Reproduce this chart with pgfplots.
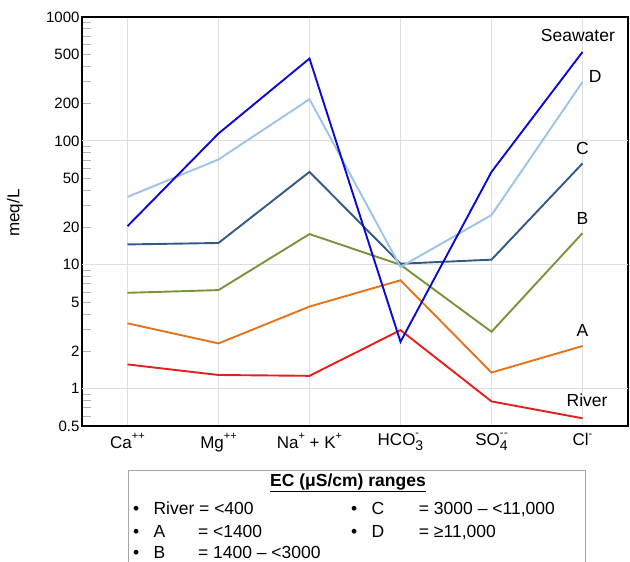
\documentclass[border=0pt]{standalone}
\usepackage{fontspec}
\setmainfont{Liberation Sans}
\usepackage{pgfplots}
\pgfplotsset{compat=1.18}
\definecolor{cRiver}{RGB}{230,30,30}
\definecolor{cA}{RGB}{230,115,25}
\definecolor{cB}{RGB}{119,147,60}
\definecolor{cC}{RGB}{50,90,135}
\definecolor{cD}{RGB}{157,195,235}
\definecolor{cSea}{RGB}{10,10,210}
\newcommand{\sups}[1]{\raisebox{0.5em}{\fontsize{11}{11}\selectfont #1}}
\newcommand{\subs}[1]{\raisebox{-0.32em}{\fontsize{14}{14}\selectfont #1}}
\begin{document}
\begin{tikzpicture}[x=1pt,y=1pt]
\useasboundingbox (0,0) rectangle (630,562);
\begin{axis}[
  at={(82pt,136pt)}, anchor=south west,
  scale only axis, width=546pt, height=409pt,
  ymode=log, ymin=0.5, ymax=1000, xmin=-0.5, xmax=5.5,
  clip=false,
  xtick={0,1,2,3,4,5},
  xticklabels={Ca\sups{++}, Mg\sups{++}, Na\sups{+} + K\sups{+}, HCO\rlap{\sups{-}}\subs{3}, SO\rlap{\sups{-\kern0.5pt-}}\subs{4}, Cl\sups{-}},
  ytick={0.5,1,2,5,10,20,50,100,200,500,1000},
  yticklabels={0.5,1,2,5,10,20,50,100,200,500,1000},
  minor ytick={0.6,0.7,0.8,0.9,3,4,6,7,8,9,30,40,60,70,80,90,300,400,600,700,800,900},
  ytick pos=left,
  major tick length=9pt, minor tick length=9pt,
  ytick style={gray!60, line width=1pt},
  xtick style={draw=none},
  xmajorgrids,
  grid style={gray!25, line width=1.2pt},
  extra y ticks={1,10,100}, extra y tick labels={},
  extra y tick style={grid=major, major tick length=0pt},
  axis line style={black, line width=1.3pt},
  tick label style={font=\fontsize{15}{17}\selectfont},
  yticklabel style={xshift=1pt},
  xticklabel style={font=\fontsize{17}{19}\selectfont, yshift=-4pt},
  every axis plot/.append style={line width=1.9pt, mark=none},
]
\addplot[cRiver] coordinates {(0,1.57) (1,1.29) (2,1.27) (3,2.97) (4,0.79) (5,0.577)};
\addplot[cA] coordinates {(0,3.37) (1,2.32) (2,4.6) (3,7.5) (4,1.35) (5,2.21)};
\addplot[cB] coordinates {(0,5.94) (1,6.25) (2,17.7) (3,10.0) (4,2.88) (5,18)};
\addplot[cC] coordinates {(0,14.6) (1,15.0) (2,56.2) (3,10.2) (4,11.0) (5,65.8)};
\addplot[cD] coordinates {(0,35.3) (1,70.8) (2,217) (3,9.6) (4,25.2) (5,299)};
\addplot[cSea] coordinates {(0,20.5) (1,114.7) (2,462) (3,2.39) (4,56.2) (5,522)};
\node[font=\fontsize{17.5}{19}\selectfont] at (axis cs:4.95,712) {Seawater};
\node[font=\fontsize{17.5}{19}\selectfont] at (axis cs:5.14,328) {D};
\node[font=\fontsize{17.5}{19}\selectfont] at (axis cs:5.0,87.3) {C};
\node[font=\fontsize{17.5}{19}\selectfont] at (axis cs:5.0,23.8) {B};
\node[font=\fontsize{17.5}{19}\selectfont] at (axis cs:5.0,2.97) {A};
\node[font=\fontsize{17.5}{19}\selectfont] at (axis cs:5.05,0.81) {River};
\end{axis}
\node[rotate=90, font=\fontsize{17}{19}\selectfont] at (15,349) {meq/L};
% legend box
\draw[gray!70, line width=1pt] (128.7,-10) -- (128.7,91.3) -- (585.7,91.3) -- (585.7,-10);
\node[font=\fontsize{17.5}{19}\selectfont\bfseries] at (348,79) {\underline{EC (μS/cm) ranges}};
\begin{scope}[every node/.style={anchor=base west, inner sep=0pt, font=\fontsize{17.5}{19}\selectfont}]
\node at (133,47) {•}; \node at (153.3,47) {River = <400};
\node at (133,24) {•}; \node at (153.3,24) {A}; \node at (197.8,24) {= <1400};
\node at (133,3) {•}; \node at (153.3,3) {B}; \node at (197.8,3) {= 1400 – <3000};
\node at (351,47) {•}; \node at (371.5,47) {C}; \node at (418.7,47) {= 3000 – <11,000};
\node at (351,24) {•}; \node at (371.5,24) {D}; \node at (418.7,24) {= ≥11,000};
\end{scope}
\end{tikzpicture}
\end{document}
